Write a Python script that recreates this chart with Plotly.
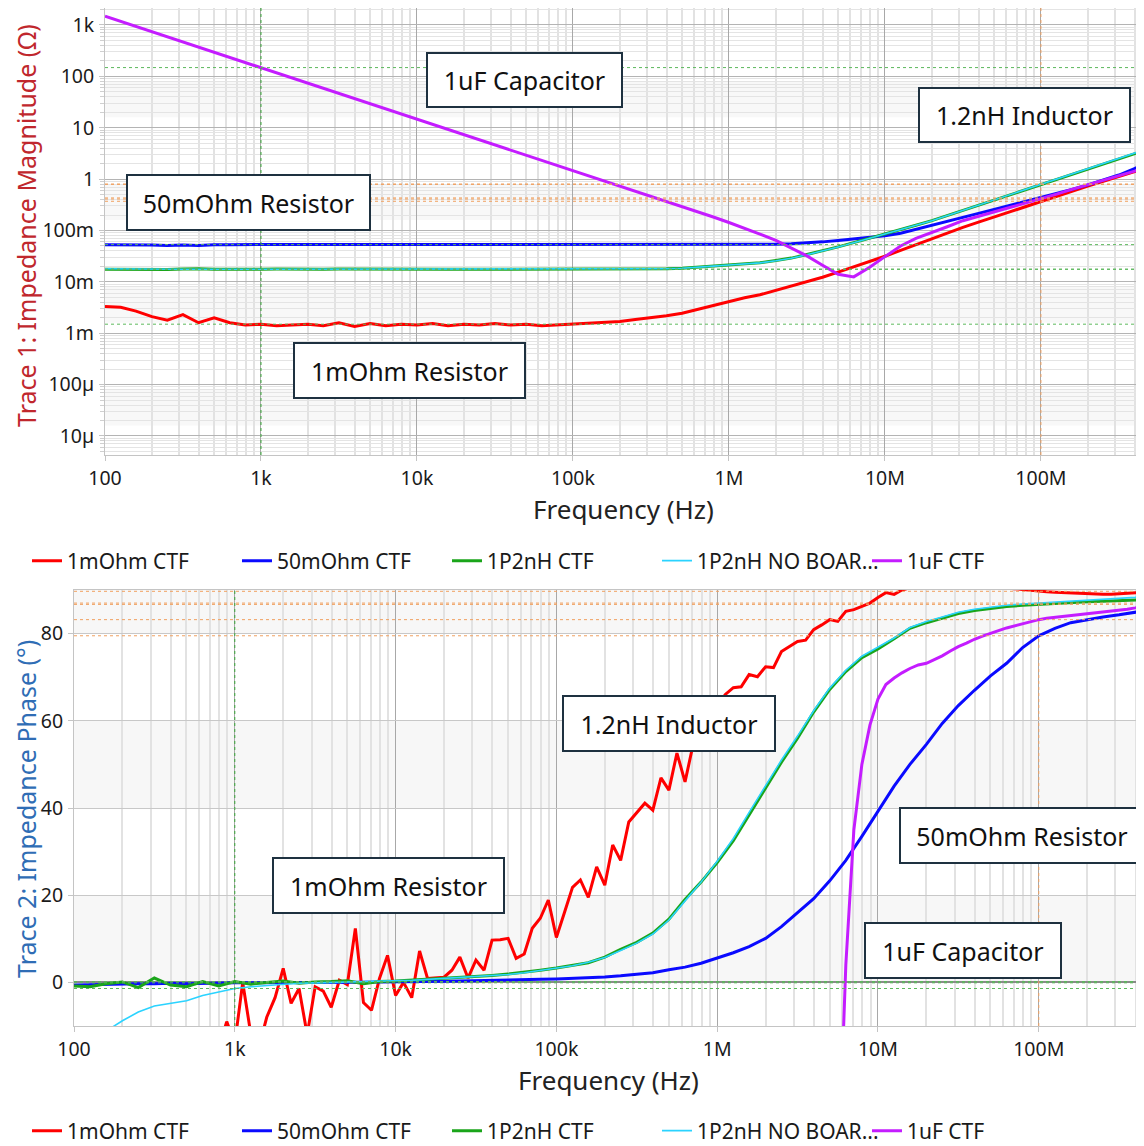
import plotly.graph_objects as go

# page offset (browser body margin) compensation
PAGE_W, PAGE_H, OFF = 1144, 1146, 8
W, H = PAGE_W - OFF, PAGE_H - OFF
FONT = "Noto Sans"


def PX(x):
    return (x - OFF) / W


def PY(y):
    return min(1.0, max(0.0, 1 - (y - OFF) / H))


# ---------------- data ----------------
MANTISSA = [1.00, 1.12, 1.26, 1.41, 1.58, 1.78, 2.00, 2.24, 2.51, 2.82,
            3.16, 3.55, 3.98, 4.47, 5.01, 5.62, 6.31, 7.08, 7.94, 8.91]
DECADES = [2, 3, 4, 5, 6, 7, 8]
FREQ_FINE_HZ = [m * 10 ** d for d in DECADES for m in MANTISSA][:134]   # 100 Hz .. 447 MHz
FREQ_HZ = FREQ_FINE_HZ[::2] + [FREQ_FINE_HZ[-1]]                         # 68 points

SERIES = ["1mOhm CTF", "50mOhm CTF", "1P2nH CTF", "1P2nH NO BOAR...", "1uF CTF"]
COLORS = ["#ff0000", "#0a0aff", "#1aa51a", "#2bd3ff", "#c41cff"]
WIDTHS = [3, 3, 3, 1.6, 3]

X_TICK_VALS = [1e2, 1e3, 1e4, 1e5, 1e6, 1e7, 1e8]
X_TICK_TEXT = ["100", "1k", "10k", "100k", "1M", "10M", "100M"]
MAG_TICK_VALS = [1e-5, 1e-4, 1e-3, 1e-2, 1e-1, 1, 10, 100, 1000]
MAG_TICK_TEXT = ["10\u00b5", "100\u00b5", "1m", "10m", "100m", "1", "10", "100", "1k"]
PH_TICK_VALS = [0, 20, 40, 60, 80]
PH_TICK_TEXT = ["0", "20", "40", "60", "80"]

# |Z| (ohm) on FREQ_HZ
MAG_1MOHM = [3.3e-3, 3.2e-3, 2.7e-3, 2.1e-3, 1.8e-3, 2.3e-3, 1.6e-3, 2.0e-3, 1.6e-3, 1.45e-3,
             1.5e-3, 1.4e-3, 1.45e-3, 1.5e-3, 1.4e-3, 1.6e-3, 1.35e-3, 1.55e-3, 1.4e-3, 1.5e-3,
             1.45e-3, 1.55e-3, 1.4e-3, 1.5e-3, 1.45e-3, 1.55e-3, 1.45e-3, 1.5e-3, 1.4e-3, 1.45e-3,
             1.5e-3, 1.55e-3, 1.6e-3, 1.7e-3, 1.85e-3, 2.0e-3, 2.2e-3, 2.45e-3, 2.9e-3, 3.5e-3,
             4.2e-3, 4.9e-3, 5.6e-3, 6.8e-3, 8.3e-3, 10.0e-3, 12.3e-3, 15.5e-3, 19.5e-3, 25e-3,
             0.0315, 0.041, 0.053, 0.068, 0.088, 0.115, 0.145, 0.18, 0.23, 0.29,
             0.37, 0.46, 0.58, 0.73, 0.91, 1.14, 1.42, 1.55]
MAG_50MOHM = [0.053, 0.053, 0.053, 0.052, 0.051, 0.052, 0.051, 0.053, 0.053, 0.053,
              0.053, 0.053, 0.053, 0.053, 0.053, 0.053, 0.053, 0.053, 0.053, 0.053,
              0.053, 0.053, 0.053, 0.053, 0.053, 0.053, 0.053, 0.053, 0.053, 0.053,
              0.053, 0.053, 0.053, 0.053, 0.053, 0.053, 0.053, 0.053, 0.053, 0.053,
              0.053, 0.053, 0.0535, 0.054, 0.055, 0.057, 0.060, 0.064, 0.068, 0.073,
              0.079, 0.088, 0.105, 0.13, 0.155, 0.18, 0.215, 0.255, 0.305, 0.36,
              0.43, 0.52, 0.63, 0.77, 0.95, 1.2, 1.6, 1.85]
MAG_1P2NH = [0.0176, 0.0175, 0.0177, 0.0179, 0.0174, 0.0178, 0.0180, 0.0175, 0.0174, 0.0175,
             0.0176, 0.0177, 0.0175, 0.0176, 0.0176, 0.0177, 0.0176, 0.0176, 0.0177, 0.0176,
             0.0176, 0.0176, 0.0175, 0.0176, 0.0176, 0.0176, 0.0177, 0.0176, 0.0176, 0.0176,
             0.0176, 0.0176, 0.0176, 0.0177, 0.0177, 0.0178, 0.0180, 0.0184, 0.0192, 0.0203,
             0.0214, 0.0224, 0.0235, 0.026, 0.029, 0.034, 0.040, 0.048, 0.058, 0.070,
             0.085, 0.103, 0.126, 0.155, 0.195, 0.245, 0.305, 0.385, 0.49, 0.62,
             0.79, 0.99, 1.25, 1.57, 1.98, 2.5, 3.15, 3.5]
MAG_1P2NH_NB = [0.0180, 0.0178, 0.0177, 0.0177, 0.0177, 0.0176, 0.0176, 0.0176, 0.0176, 0.0176,
                0.0176, 0.0176, 0.0176, 0.0176, 0.0176, 0.0176, 0.0176, 0.0176, 0.0176, 0.0176,
                0.0176, 0.0176, 0.0176, 0.0176, 0.0176, 0.0176, 0.0176, 0.0176, 0.0176, 0.0176,
                0.0176, 0.0176, 0.0176, 0.0177, 0.0177, 0.0178, 0.0180, 0.0184, 0.0191, 0.0202,
                0.0213, 0.0223, 0.0234, 0.0258, 0.0288, 0.0338, 0.0398, 0.0478, 0.0578, 0.0698,
                0.0848, 0.103, 0.126, 0.155, 0.195, 0.246, 0.307, 0.388, 0.495, 0.625,
                0.80, 1.0, 1.27, 1.6, 2.02, 2.55, 3.22, 3.6]
MAG_1UF = [1480, 1175, 934, 742, 589, 468, 372, 295, 235, 186,
           148, 118, 93.4, 74.2, 58.9, 46.8, 37.2, 29.5, 23.5, 18.6,
           14.8, 11.8, 9.34, 7.42, 5.89, 4.68, 3.72, 2.95, 2.35, 1.86,
           1.48, 1.18, 0.934, 0.742, 0.589, 0.468, 0.372, 0.295, 0.233, 0.183,
           0.143, 0.111, 0.085, 0.064, 0.046, 0.032, 0.021, 0.014, 0.0125, 0.019,
           0.031, 0.050, 0.070, 0.090, 0.118, 0.155, 0.19, 0.235, 0.28, 0.34,
           0.41, 0.51, 0.63, 0.78, 0.96, 1.18, 1.45, 1.58]

# phase (deg); 1mOhm and 1uF on FREQ_FINE_HZ, others on FREQ_HZ
PHASE_1MOHM = [-45, -38, -52, -41, -35, -48, -30, -42, -28, -36, -25, -33, -22, -30, -20, -26, -18, -24, -15, -9,
               -14, 0, -12, -15, -8, -3.5, 3.2, -4.8, -1.4, -12, -1, -2, -5.7, 0.5, -0.5, 12.4, -4.6, -6.4, 0.9, 6.2,
               -3, 0, -3.5, 7.2, 0.9, 1.0, 1.2, 2.8, 5.8, 1.0, 5.1, 2.8, 9.7, 9.8, 10.1, 5.5, 6.5, 12.4, 14.7, 18.9,
               10.3, 15.9, 21.8, 23.5, 19.5, 26.5, 22.3, 31.5, 28, 36.8, 39, 41.1, 39.5, 46.9, 44.1, 52.6, 46, 54.5, 58, 61,
               63, 66, 67.6, 67.8, 70.6, 70.1, 72.4, 72.2, 75.9, 77, 78.2, 78.5, 80.9, 82, 83.2, 82.8, 85.1, 85.5, 86.2, 87,
               88.3, 89.4, 89, 90, 90.5, 90.8, 91, 91.2, 91.2, 91.1, 91, 90.9, 90.8, 90.7, 90.6, 90.5, 90.5, 90.3, 90.1, 89.9,
               89.7, 89.6, 89.5, 89.4, 89.3, 89.2, 89.1, 89.0, 89.0, 89.0, 89.1, 89.2, 89.4, 89.5]
PHASE_50MOHM = [-0.6, -0.5, -0.4, -0.4, -0.3, -0.3, -0.2, -0.3, -0.2, -0.2,
                -0.1, -0.1, -0.1, 0.0, 0.0, 0.0, 0.0, 0.05, 0.05, 0.1,
                0.1, 0.15, 0.2, 0.25, 0.3, 0.35, 0.4, 0.5, 0.6, 0.7,
                0.8, 0.9, 1.05, 1.25, 1.5, 1.8, 2.2, 2.9, 3.5, 4.4,
                5.6, 6.8, 8.2, 10.1, 12.8, 16.0, 19.2, 23.3, 28.0, 33.5,
                39.3, 45.0, 50.0, 54.6, 59.4, 63.5, 67.0, 70.3, 73.2, 76.8,
                79.5, 81.2, 82.5, 83.2, 83.8, 84.3, 84.8, 85.2]
PHASE_1P2NH = [-0.8, -1.0, -0.3, 0.1, -1.2, 1.0, -0.6, -1.0, 0.2, -0.8,
               0.2, -0.4, 0.0, 0.3, -0.2, 0.1, 0.2, 0.4, -0.3, 0.2,
               0.3, 0.5, 0.8, 1.0, 1.2, 1.4, 1.6, 1.9, 2.3, 2.8,
               3.3, 3.9, 4.5, 5.8, 7.6, 9.2, 11.3, 14.5, 19.0, 23.0,
               27.5, 32.5, 38.5, 44.5, 50.5, 56.0, 62.0, 67.2, 71.3, 74.5,
               76.5, 78.8, 81.2, 82.5, 83.5, 84.6, 85.3, 85.8, 86.2, 86.5,
               86.7, 87.0, 87.2, 87.3, 87.4, 87.5, 87.6, 87.8]
PHASE_1P2NH_NB = [-16, -13.5, -11.2, -8.8, -6.8, -5.4, -4.8, -4.2, -3.0, -2.2,
                  -1.4, -1.0, -0.7, -0.4, -0.2, -0.1, 0.0, 0.1, 0.1, 0.2,
                  0.3, 0.5, 0.7, 0.9, 1.1, 1.3, 1.5, 1.8, 2.2, 2.7,
                  3.2, 3.8, 4.6, 5.7, 7.3, 9.0, 11.1, 14.3, 18.7, 23.0,
                  27.8, 33.0, 39.0, 45.0, 51.0, 56.5, 62.3, 67.5, 71.6, 74.8,
                  76.8, 79.0, 81.4, 82.8, 83.8, 84.9, 85.6, 86.1, 86.5, 86.8,
                  87.0, 87.3, 87.5, 87.7, 87.9, 88.1, 88.3, 88.6]
PHASE_1UF = [-89.6, -89.6, -89.6, -89.6, -89.6, -89.6, -89.6, -89.6, -89.6, -89.6,
             -89.6, -89.6, -89.6, -89.6, -89.6, -89.6, -89.6, -89.6, -89.6, -89.6,
             -89.6, -89.6, -89.6, -89.6, -89.6, -89.6, -89.6, -89.6, -89.6, -89.6,
             -89.6, -89.6, -89.6, -89.6, -89.6, -89.6, -89.6, -89.6, -89.6, -89.6,
             -89.6, -89.6, -89.6, -89.6, -89.6, -89.6, -89.6, -89.6, -89.6, -89.6,
             -89.6, -89.6, -89.6, -89.6, -89.6, -89.6, -89.6, -89.6, -89.6, -89.6,
             -89.6, -89.6, -89.6, -89.6, -89.6, -89.6, -89.6, -89.6, -89.5, -89.5,
             -89.5, -89.4, -89.4, -89.3, -89.3, -89.2, -89.1, -89.0, -88.8, -88.6,
             -88.4, -88.1, -87.8, -87.3, -86.6, -85.6, -84.0, -81.5, -77.0, -70.0,
             -87.0, -84.0, -78.0, -70.0, -58.0, -48.0, 4.0, 35.0, 50.0, 59.0,
             65.0, 68.3, 69.8, 71.0, 72.0, 72.8, 73.2, 74.0, 74.9, 76.0,
             77.0, 77.8, 78.7, 79.4, 80.1, 80.7, 81.3, 81.8, 82.3, 82.8,
             83.2, 83.5, 83.7, 84.0, 84.2, 84.4, 84.6, 84.8, 85.0, 85.1,
             85.3, 85.6, 85.9, 86.3]

MAG = [MAG_1MOHM, MAG_50MOHM, MAG_1P2NH, MAG_1P2NH_NB, MAG_1UF]
PHASE = [PHASE_1MOHM, PHASE_50MOHM, PHASE_1P2NH, PHASE_1P2NH_NB, PHASE_1UF]
PHASE_X = [FREQ_FINE_HZ, FREQ_HZ, FREQ_HZ, FREQ_HZ, FREQ_FINE_HZ]

# marker readout positions
MARKER1_HZ = 1e3
MARKER2_HZ = 1e8

# ---------------- figure ----------------
fig = go.Figure()
for i, name in enumerate(SERIES):
    fig.add_trace(go.Scatter(x=FREQ_HZ, y=MAG[i], name=name, mode="lines",
                             line=dict(color=COLORS[i], width=WIDTHS[i]),
                             xaxis="x", yaxis="y", legend="legend"))
for i, name in enumerate(SERIES):
    fig.add_trace(go.Scatter(x=PHASE_X[i], y=PHASE[i], name=name, mode="lines",
                             line=dict(color=COLORS[i], width=WIDTHS[i]),
                             xaxis="x2", yaxis="y2", legend="legend2"))

minor_x = [m * 10 ** d for d in range(2, 9) for m in range(2, 10)]
minor_y = [m * 10.0 ** d for d in range(-6, 4) for m in range(2, 10)]

tickfont = dict(family=FONT, size=19.5, color="#1a1a1a")
common = dict(showline=True, linecolor="#c4c4c4", linewidth=1, mirror=True,
              ticks="outside", ticklen=5, tickcolor="#c4c4c4", tickfont=tickfont,
              zeroline=False, automargin=False)

fig.update_layout(
    width=W, height=H, margin=dict(l=0, r=0, t=0, b=0, autoexpand=False),
    paper_bgcolor="white", plot_bgcolor="white", showlegend=True,
    xaxis=dict(type="log", range=[2, 8.648], domain=[PX(105), PX(1142)], anchor="y",
               tickmode="array", tickvals=X_TICK_VALS, ticktext=X_TICK_TEXT,
               showgrid=True, gridcolor="#a8a8a8", gridwidth=1,
               minor=dict(tickmode="array", tickvals=minor_x, showgrid=True,
                          gridcolor="#e2e2e2", gridwidth=1.5, ticks=""),
               ticklabelstandoff=1, **common),
    yaxis=dict(type="log", range=[-5.37, 3.33], domain=[PY(455), PY(6)], anchor="x",
               tickmode="array", tickvals=MAG_TICK_VALS, ticktext=MAG_TICK_TEXT,
               showgrid=True, gridcolor="#b4b4b4", gridwidth=1,
               minor=dict(tickmode="array", tickvals=minor_y, showgrid=True,
                          gridcolor="#e4e4e4", gridwidth=1, ticks="outside",
                          ticklen=4, tickcolor="#d0d0d0"),
               ticklabelstandoff=1, **common),
    xaxis2=dict(type="log", range=[2, 8.642], domain=[PX(74), PX(1142)], anchor="y2",
                tickmode="array", tickvals=X_TICK_VALS, ticktext=X_TICK_TEXT,
                showgrid=True, gridcolor="#a8a8a8", gridwidth=1,
                minor=dict(tickmode="array", tickvals=minor_x, showgrid=True,
                           gridcolor="#e2e2e2", gridwidth=1.5, ticks=""),
                ticklabelstandoff=1, **common),
    yaxis2=dict(range=[-10, 90], domain=[PY(1026), PY(590)], anchor="x2",
                tickmode="array", tickvals=PH_TICK_VALS, ticktext=PH_TICK_TEXT,
                showgrid=True, gridcolor="#c8c8c8", gridwidth=1,
                ticklabelstandoff=1, **common),
    legend=dict(orientation="h", x=PX(27), xanchor="left", y=PY(561), yanchor="middle",
                entrywidth=165, entrywidthmode="pixels", itemwidth=30,
                font=dict(family=FONT, size=21, color="#1a1a1a"), bgcolor="rgba(0,0,0,0)"),
    legend2=dict(orientation="h", x=PX(27), xanchor="left", y=PY(1131), yanchor="middle",
                 entrywidth=165, entrywidthmode="pixels", itemwidth=30,
                 font=dict(family=FONT, size=21, color="#1a1a1a"), bgcolor="rgba(0,0,0,0)"),
)
fig.layout.yaxis2.update(zeroline=True, zerolinecolor="#8a8a8a", zerolinewidth=1.5)

shapes = []
# phase background bands
for y0, y1 in [(80, 90), (40, 60), (0, 20)]:
    shapes.append(dict(type="rect", xref="x2 domain", yref="y2", x0=0, x1=1, y0=y0, y1=y1,
                       fillcolor="#f7f7f7", line=dict(width=0), layer="below"))
# magnitude background bands
for d in [-5, -3, -1, 1]:
    shapes.append(dict(type="rect", xref="x domain", yref="y", x0=0, x1=1,
                       y0=10.0 ** d * 1.6, y1=10.0 ** (d + 1) * 0.8,
                       fillcolor="#f8f8f8", line=dict(width=0), layer="below"))


def idx_of(xs, f):
    return min(range(len(xs)), key=lambda k: abs(xs[k] - f))


# marker readout lines (values taken from the series at marker frequencies)
for xa, ya, ys_list, xs_list in [("x", "y", MAG, [FREQ_HZ] * 5), ("x2", "y2", PHASE, PHASE_X)]:
    shapes.append(dict(type="line", xref=xa, yref=f"{ya} domain", x0=MARKER1_HZ, x1=MARKER1_HZ,
                       y0=0, y1=1, line=dict(color="#3aa83a", width=1, dash="dot")))
    shapes.append(dict(type="line", xref=xa, yref=f"{ya} domain", x0=MARKER2_HZ, x1=MARKER2_HZ,
                       y0=0, y1=1, line=dict(color="#f0a060", width=1, dash="dot")))
    for ys, xs in zip(ys_list, xs_list):
        v1 = ys[idx_of(xs, MARKER1_HZ)]
        v2 = ys[idx_of(xs, MARKER2_HZ)]
        shapes.append(dict(type="line", xref=f"{xa} domain", yref=ya, x0=0, x1=1, y0=v1, y1=v1,
                           line=dict(color="#5cb85c", width=1, dash="dot")))
        shapes.append(dict(type="line", xref=f"{xa} domain", yref=ya, x0=0, x1=1, y0=v2, y1=v2,
                           line=dict(color="#f0a060", width=1, dash="dot")))
fig.update_layout(shapes=shapes)


def box(text, cx, cy, w, h):
    return dict(text=text, x=PX(cx), y=PY(cy), xref="paper", yref="paper",
                xanchor="center", yanchor="middle", showarrow=False,
                font=dict(family=FONT, size=25, color="#111111"),
                bgcolor="white", bordercolor="#1e3140", borderwidth=2, borderpad=0,
                width=w - 2, height=h - 2)


def label(text, cx, cy, size=26, color="#222222", angle=0):
    return dict(text=text, x=PX(cx), y=PY(cy), xref="paper", yref="paper",
                xanchor="center", yanchor="middle", showarrow=False, textangle=angle,
                font=dict(family=FONT, size=size, color=color))


annotations = [
    box("1uF Capacitor", 524.5, 80, 195, 54),
    box("1.2nH Inductor", 1024.5, 115, 211, 54),
    box("50mOhm Resistor", 248.5, 202.5, 243, 55),
    box("1mOhm Resistor", 409.5, 370.5, 231, 55),
    box("1.2nH Inductor", 669, 723.5, 212, 55),
    box("1mOhm Resistor", 388.5, 885.5, 231, 55),
    box("50mOhm Resistor", 1022, 835.5, 244, 55),
    box("1uF Capacitor", 963, 950.5, 196, 55),
    label("Frequency (Hz)", 623, 509),
    label("Frequency (Hz)", 608, 1080),
    label("Trace 1: Impedance Magnitude (\u03a9)", 26, 226, size=25, color="#c0272d", angle=-90),
    label("Trace 2: Impedance Phase (\u00b0)", 26, 809, size=25, color="#2f6db5", angle=-90),
]
fig.update_layout(annotations=annotations)

fig.write_html("out.html")
